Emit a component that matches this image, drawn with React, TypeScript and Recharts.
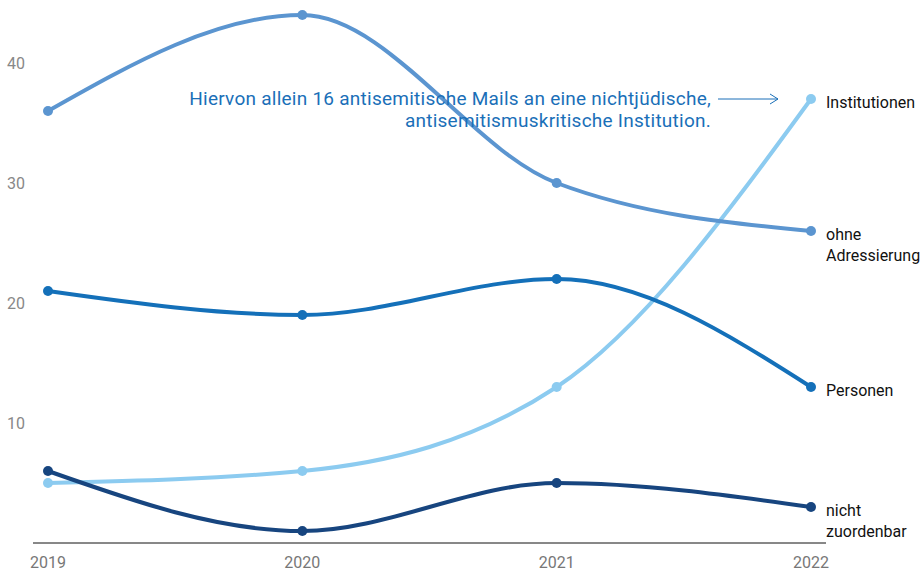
import React from 'react';
import { LineChart, Line, XAxis, YAxis } from 'recharts';

const years = ['2019', '2020', '2021', '2022'];
const institutionen = [5, 6, 13, 37];
const ohneAdressierung = [36, 44, 30, 26];
const personen = [21, 19, 22, 13];
const nichtZuordenbar = [6, 1, 5, 3];
const yTicks = [10, 20, 30, 40];

const annotationLines = [
  'Hiervon allein 16 antisemitische Mails an eine nichtjüdische,',
  'antisemitismuskritische Institution.',
];

const data = years.map((year, i) => ({
  year,
  institutionen: institutionen[i],
  ohne: ohneAdressierung[i],
  personen: personen[i],
  nicht: nichtZuordenbar[i],
}));

const FONT = 'Roboto, "Noto Sans", sans-serif';

const endLabel = (lines: string[], withAnnotation = false) => (props: any) => {
  const { x, y, index } = props;
  if (index !== years.length - 1) return null;
  return (
    <g>
      <text x={x + 15} y={y} fontFamily={FONT} fontSize={16} fill="#111">
        {lines.map((l, i) => (
          <tspan key={i} x={x + 15} dy={i === 0 ? '0.58em' : 21}>
            {l}
          </tspan>
        ))}
      </text>
      {withAnnotation && (
        <g>
          <text
            x={x - 100}
            y={y}
            fontFamily={FONT}
            fontSize={19}
            letterSpacing={0.25}
            fill="#1a6fb8"
            textAnchor="end"
          >
            {annotationLines.map((l, i) => (
              <tspan key={i} x={x - 100} dy={i === 0 ? '0.3em' : 22}>
                {l}
              </tspan>
            ))}
          </text>
          <line x1={x - 93} y1={y} x2={x - 33} y2={y} stroke="#1a6fb8" strokeWidth={1} />
          <path
            d={`M ${x - 41} ${y - 5} L ${x - 33} ${y} L ${x - 41} ${y + 5}`}
            fill="none"
            stroke="#1a6fb8"
            strokeWidth={1}
          />
        </g>
      )}
    </g>
  );
};

export default function App() {
  return (
    <div style={{ position: 'absolute', left: 0, top: 0 }}>
      <LineChart
        width={923}
        height={571}
        data={data}
        margin={{ top: 15, right: 97, bottom: 0, left: 0 }}
      >
        <XAxis
          dataKey="year"
          padding={{ left: 15, right: 15 }}
          tickLine={false}
          tickSize={0}
          tickMargin={14}
          height={28}
          axisLine={{ stroke: '#111', strokeWidth: 1 }}
          tick={{ fill: '#777', fontSize: 16, fontFamily: FONT }}
        />
        <YAxis
          domain={[0, 44]}
          ticks={yTicks}
          width={33}
          axisLine={false}
          tickLine={false}
          tickSize={0}
          tickMargin={8}
          tick={{ fill: '#888', fontSize: 16, fontFamily: FONT }}
        />
        <Line
          type="monotone"
          dataKey="institutionen"
          stroke="#8ccbf0"
          strokeWidth={4}
          dot={{ r: 5, fill: '#8ccbf0', stroke: 'none' }}
          isAnimationActive={false}
          label={endLabel(['Institutionen'], true)}
        />
        <Line
          type="monotone"
          dataKey="ohne"
          stroke="#5b95d0"
          strokeWidth={4}
          dot={{ r: 5, fill: '#5b95d0', stroke: 'none' }}
          isAnimationActive={false}
          label={endLabel(['ohne', 'Adressierung'])}
        />
        <Line
          type="monotone"
          dataKey="personen"
          stroke="#1470b9"
          strokeWidth={4}
          dot={{ r: 5, fill: '#1470b9', stroke: 'none' }}
          isAnimationActive={false}
          label={endLabel(['Personen'])}
        />
        <Line
          type="monotone"
          dataKey="nicht"
          stroke="#17457f"
          strokeWidth={4}
          dot={{ r: 5, fill: '#17457f', stroke: 'none' }}
          isAnimationActive={false}
          label={endLabel(['nicht', 'zuordenbar'])}
        />
      </LineChart>
    </div>
  );
}
